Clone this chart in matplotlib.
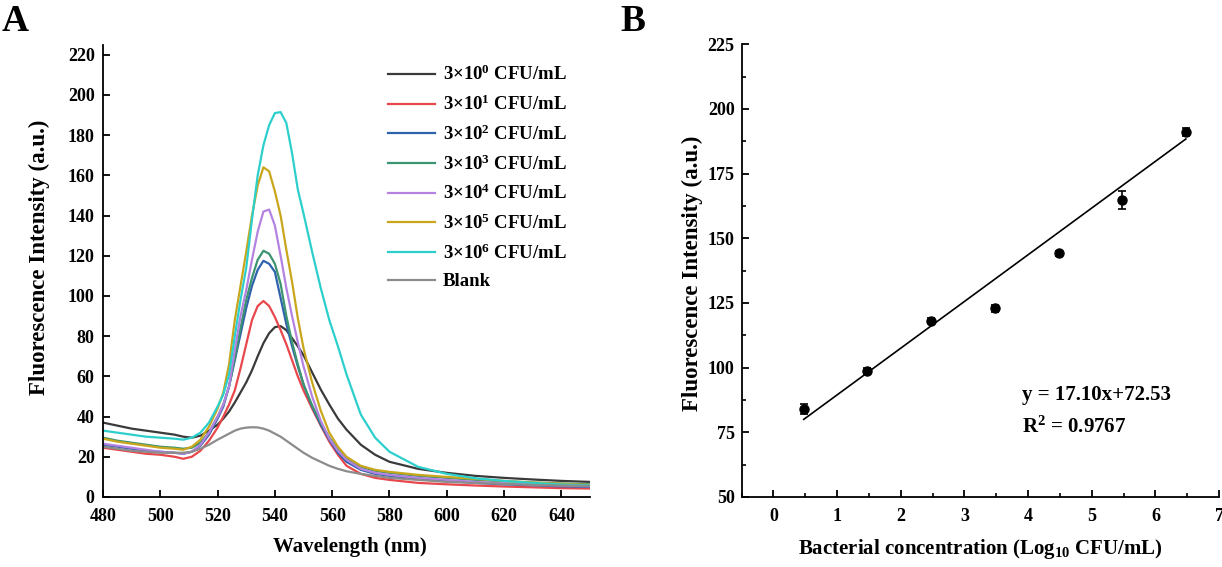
import numpy as np
import matplotlib
matplotlib.use("Agg")
import matplotlib.pyplot as plt
from matplotlib.ticker import MultipleLocator

# ---- panel A: emission spectra ----
wavelength = [480, 485, 490, 495, 500, 505, 508, 511, 514, 517, 520, 522, 524, 526, 528,
              530, 532, 534, 536, 538, 540, 542, 544, 546, 548, 550, 553, 556, 559, 562,
              565, 570, 575, 580, 590, 600, 610, 620, 630, 640, 650]

int_3e0 = [37, 35.5, 34, 33, 32, 31, 30, 29.5, 30.5, 33, 36, 39, 42.5, 47, 52,
           57, 63, 70, 76.5, 81.5, 84.5, 85, 83, 79, 75, 70.5, 62, 53.5, 46, 39,
           33.5, 26, 21, 17.5, 14, 12, 10.5, 9.5, 8.7, 8, 7.5]
int_3e1 = [24.5, 23.5, 22.5, 21.5, 21, 20, 19, 20, 23, 28, 34.5, 40, 46, 53, 64,
           76, 88, 95, 97.5, 95, 89.5, 83, 76, 68, 60, 53, 44, 35.5, 27.5, 21,
           15.5, 11.5, 9.5, 8.5, 7, 6.3, 5.7, 5.2, 4.8, 4.4, 4.2]
int_3e2 = [26, 25, 24, 23, 22.5, 22, 21.5, 22.5, 25.5, 31, 39, 45, 55, 68, 81,
           94, 105, 113, 117.5, 116, 112, 99, 86, 75, 65, 56, 45, 36, 28.5, 22,
           17.5, 13.5, 11.5, 10.5, 9, 8, 7, 6.3, 5.8, 5.3, 5]
int_3e3 = [29.5, 28, 27, 26, 25, 24.5, 24, 24.5, 27, 32, 40, 46, 55, 69, 84,
           98, 109, 118, 122.5, 121, 116, 106, 90, 77, 66, 56, 45.5, 37, 29.5, 23.5,
           19, 15, 13, 12, 10.5, 9.5, 8.5, 7.8, 7.2, 6.7, 6.3]
int_3e4 = [26.5, 25.5, 24.5, 23.5, 22.5, 22, 21.5, 22.5, 26, 32, 40, 46, 55, 73, 90,
           103, 118, 132, 142, 143, 135, 120, 104, 90, 77, 65, 50, 38, 29, 23,
           18.5, 14, 12, 11, 9.5, 8.5, 7.5, 6.8, 6.2, 5.7, 5.3]
int_3e5 = [29, 27.5, 26.5, 25.5, 24.5, 24, 23.5, 25, 28.5, 35, 44, 52, 66, 88, 105,
           122, 140, 155, 164, 162, 152, 140, 123, 107, 89, 74, 57, 43, 32, 25,
           20, 15.5, 13.5, 12.5, 11, 10, 9, 8, 7.2, 6.6, 6]
int_3e6 = [33, 32, 31, 30, 29.5, 29, 28.5, 29.5, 32, 37, 45, 51, 61, 80, 98,
           114, 138, 160, 175, 185, 191, 191.5, 186, 171, 153, 141, 122, 104, 88, 75,
           61, 41, 29.5, 22.5, 15, 11.5, 9.3, 8, 7, 6.2, 5.8]
int_blank = [25, 24, 23, 22.5, 22, 22, 22, 22.5, 24, 26, 28.5, 30, 31.5, 33, 34,
             34.5, 34.7, 34.6, 34, 33, 31.5, 30, 28, 26, 24, 22, 19.5, 17.5, 15.5, 14,
             12.8, 11.5, 10.5, 9.5, 8.5, 7.5, 7, 6.5, 6, 5.7, 5.5]

spectra = [int_3e0, int_3e1, int_3e2, int_3e3, int_3e4, int_3e5, int_3e6, int_blank]
spec_labels = ["3×10$^{0}$ CFU/mL", "3×10$^{1}$ CFU/mL", "3×10$^{2}$ CFU/mL",
               "3×10$^{3}$ CFU/mL", "3×10$^{4}$ CFU/mL", "3×10$^{5}$ CFU/mL",
               "3×10$^{6}$ CFU/mL", "Blank"]
spec_colors = ["#3a3a3a", "#e8474c", "#2e62ad", "#3d9470", "#b482e0",
               "#c9a61c", "#2dcfcc", "#8c8c8c"]

# ---- panel B: calibration ----
concentration = [3e0, 3e1, 3e2, 3e3, 3e4, 3e5, 3e6]
peak_intensity = [84.0, 98.8, 118.1, 122.9, 144.2, 164.8, 191.2]
peak_error = [2.0, 1.2, 1.0, 1.5, 1.0, 3.5, 1.5]
fit_line_ends = [80.0, 188.4]   # drawn fit line, read at the first / last point
fit_equation = "y = 17.10x+72.53"
fit_r2 = "R$^{2}$ = 0.9767"

plt.rcParams["font.family"] = ["Liberation Serif", "DejaVu Serif"]
plt.rcParams["font.weight"] = "bold"
plt.rcParams["axes.labelweight"] = "bold"
plt.rcParams["mathtext.fontset"] = "custom"
plt.rcParams["mathtext.rm"] = "Liberation Serif:bold"
plt.rcParams["mathtext.it"] = "Liberation Serif:italic:bold"
plt.rcParams["mathtext.bf"] = "Liberation Serif:bold"
plt.rcParams["mathtext.default"] = "rm"

fig = plt.figure(figsize=(12.22, 5.67), dpi=100)
ax1 = fig.add_axes([0.0843, 0.1235, 0.3985, 0.7976])
ax2 = fig.add_axes([0.6068, 0.1235, 0.3909, 0.7984])

for ax in (ax1, ax2):
    ax.spines["top"].set_visible(False)
    ax.spines["right"].set_visible(False)
    for s in ("left", "bottom"):
        ax.spines[s].set_linewidth(1.3)
    ax.tick_params(direction="in", length=5, width=1.3, labelsize=13)

# panel A
for y, lab, col in zip(spectra, spec_labels, spec_colors):
    ax1.plot(wavelength, y, color=col, lw=1.6, label=lab)
ax1.set_xlim(480, 650)
ax1.set_ylim(0, 225)
ax1.xaxis.set_major_locator(MultipleLocator(20))
ax1.yaxis.set_major_locator(MultipleLocator(20))
ax1.tick_params(axis="y", pad=6)
ax1.tick_params(axis="x", pad=8)
ax1.set_xlabel("Wavelength (nm)", fontsize=15, va="top")
ax1.set_ylabel("Fluorescence Intensity (a.u.)", fontsize=16.5)
ax1.xaxis.set_label_coords(0.506, -0.088)
ax1.yaxis.set_label_coords(-0.109, 0.529)
ax1.legend(loc="upper left", bbox_to_anchor=(0.585, 0.955), frameon=False,
           fontsize=13.5, handlelength=2.5, handletextpad=0.45, labelspacing=0.55,
           borderaxespad=0, borderpad=0)

# panel B
x_log = np.log10(concentration)
ax2.errorbar(x_log, peak_intensity, yerr=peak_error, fmt="o", color="black",
             ms=6.5, capsize=3, elinewidth=1.2, capthick=1.2)
ax2.plot([x_log[0], x_log[-1]], fit_line_ends, color="black", lw=1.2)
ax2.set_xlim(-0.5, 7)
ax2.set_ylim(50, 225)
ax2.xaxis.set_major_locator(MultipleLocator(1))
ax2.xaxis.set_minor_locator(MultipleLocator(0.5))
ax2.yaxis.set_major_locator(MultipleLocator(25))
ax2.yaxis.set_minor_locator(MultipleLocator(12.5))
ax2.tick_params(which="minor", direction="in", length=3, width=1.2)
ax2.tick_params(axis="y", pad=5)
ax2.tick_params(axis="x", pad=8)
ax2.set_xlabel("Bacterial concentration (Log$_{10}$ CFU/mL)", fontsize=15, va="top")
ax2.set_ylabel("Fluorescence Intensity (a.u.)", fontsize=16.5)
ax2.xaxis.set_label_coords(0.501, -0.088)
ax2.yaxis.set_label_coords(-0.081, 0.495)
ax2.text(3.9, 87.5, fit_equation, fontsize=15, va="baseline")
ax2.text(3.9, 74.7, fit_r2, fontsize=15, va="baseline")

fig.text(2 / 1222, 1 - 4 / 567, "A", fontsize=27, va="top", ha="left")
fig.text(620 / 1222, 1 - 4 / 567, "B", fontsize=27, va="top", ha="left")

fig.savefig("out.png", dpi=100)
